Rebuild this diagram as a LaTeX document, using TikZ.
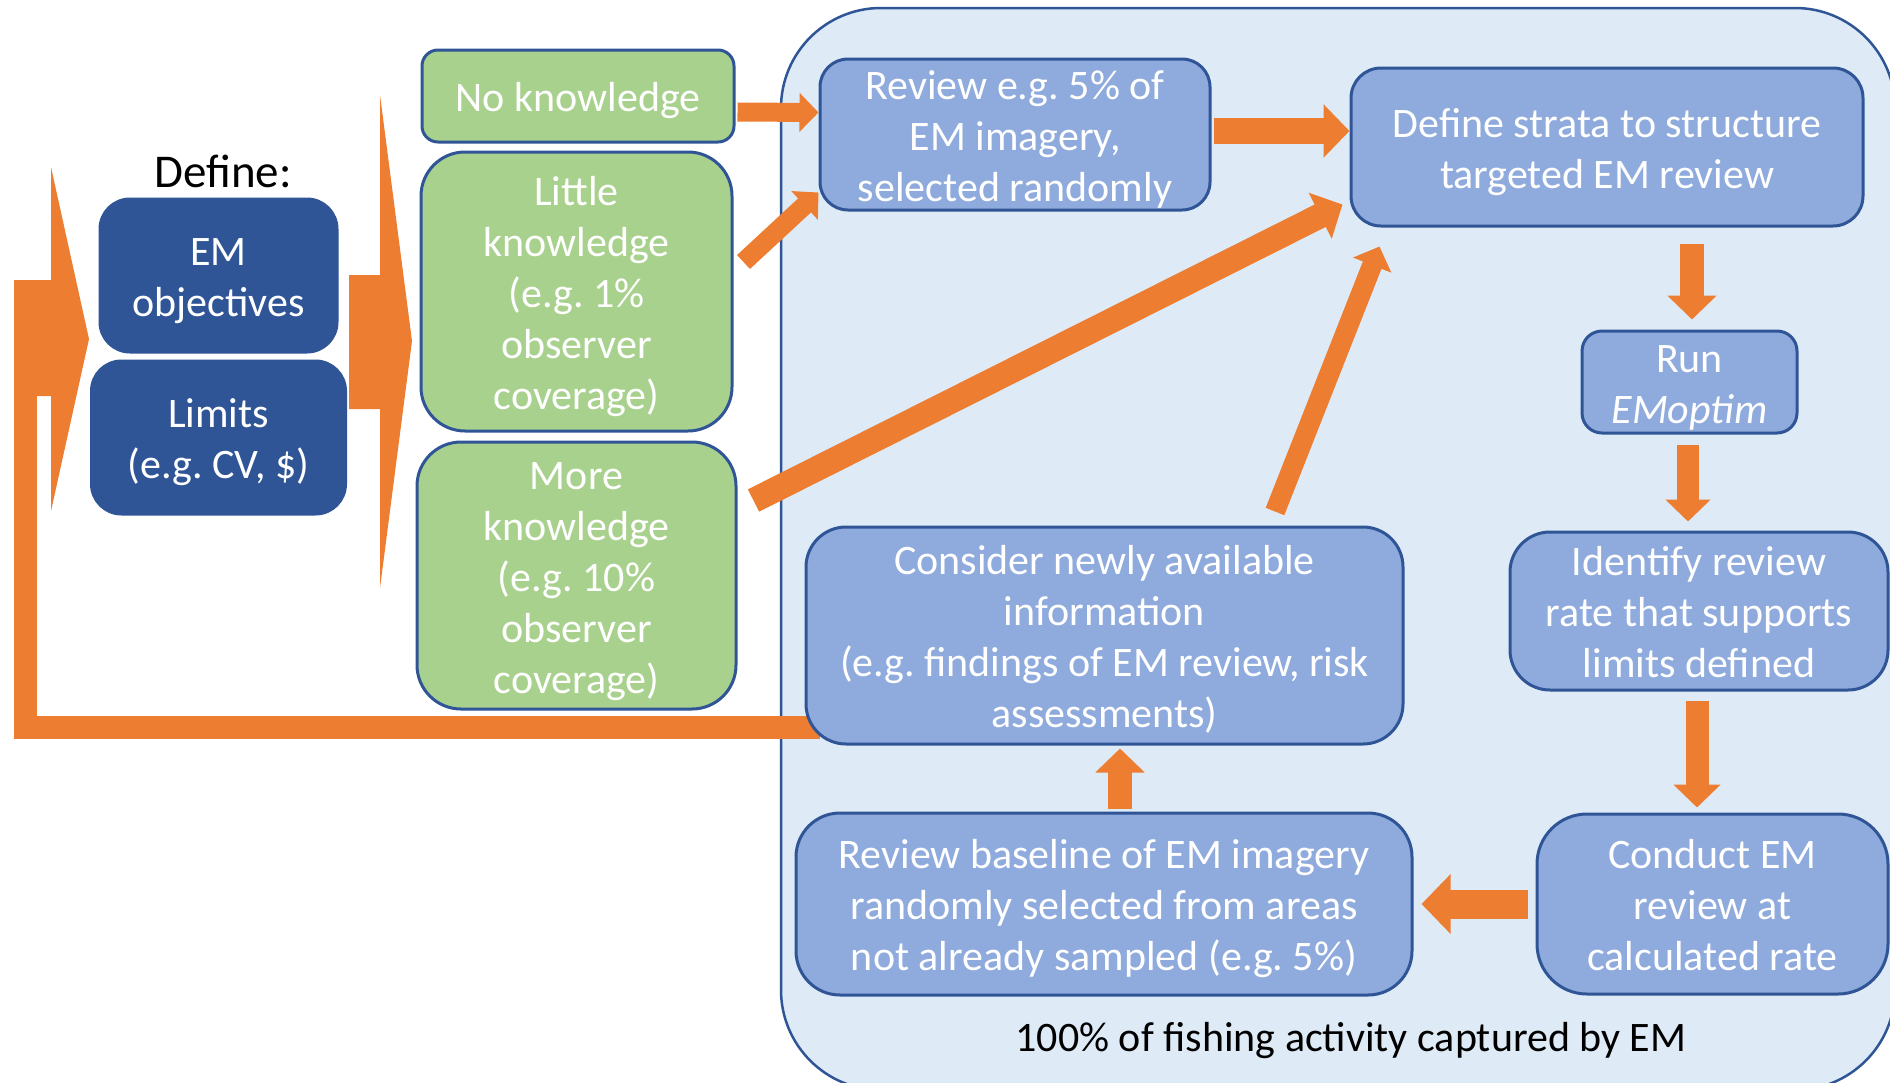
\documentclass[tikz,border=0pt]{standalone}
\usepackage{fontspec}
\setmainfont{Carlito}
\usepackage{tikz}
\usetikzlibrary{arrows.meta,positioning}
\definecolor{emdark}{HTML}{2F5597}
\definecolor{emgreen}{HTML}{A9D18E}
\definecolor{emmid}{HTML}{8FAADC}
\definecolor{emlight}{HTML}{DEEBF7}
\definecolor{emorange}{HTML}{ED7D31}

\begin{document}
\frenchspacing
\begin{tikzpicture}[
  x=0.5pt, y=-0.5pt,
  font=\fontsize{21}{25.5}\selectfont,
  box/.style={draw=emdark,line width=1.5pt,align=flush center,text=white,inner xsep=2pt,inner ysep=0pt,
    text width=\pgfshapeminwidth-6pt,
    execute at begin node={\rule{0pt}{20pt}},
    execute at end node={\rule[-4.5pt]{0pt}{4.5pt}}},
  darkbox/.style={box,fill=emdark,rounded corners=15pt,minimum width=118.5pt,minimum height=76.5pt},
  greenbox/.style={box,fill=emgreen,rounded corners=22pt},
  stepbox/.style={box,fill=emmid,rounded corners=14pt},
  flow/.style={draw=emorange,line width=#1,-{Triangle[width=0pt 2,length=0pt 1]}},
  flow/.default=11pt
]
\useasboundingbox (0,0) rectangle (1890,1082);
\fill[white] (0,0) rectangle (1890,1082);

% frame: everything that EM records
\node[draw=emdark,line width=1.25pt,fill=emlight,rounded corners=50pt,minimum width=557pt,minimum height=541pt] (emall) at (1338,549) {};
\node (cap) at (1351,1041) {100\% of fishing activity captured by EM};

% loop back to the start
\coordinate (fbstart) at (820,727);
\coordinate (fbend) at (25,390);
\draw[emorange,line width=11.5pt] (fbstart) -| (fbend);
\fill[emorange] (14,280) -- (51,280) -- (51,167) -- (89,339) -- (51,511) -- (51,396) -- (14,396) -- cycle;
\fill[emorange] (349,275) -- (380,275) -- (380,95) -- (412,341) -- (380,588) -- (380,409) -- (349,409) -- cycle;

% define
\node[font=\fontsize{23.5}{28}\selectfont] (define) at (223,171) {Define:};
\node[darkbox] (emobj) at (218.5,275.5) {EM\\objectives};
\node[darkbox,minimum width=127pt,below=3pt of emobj] (limits) {Limits\\(e.g. CV, \$)};

% prior knowledge
\node[greenbox,rounded corners=8pt,minimum width=156pt,minimum height=46pt] (noK) at (578,96) {No knowledge};
\node[greenbox,minimum width=155.5pt,minimum height=139.5pt] (littleK) at (576.5,291.5) {Little\\knowledge\\(e.g. 1\%\\observer\\coverage)};
\node[greenbox,minimum width=159.5pt,minimum height=133.5pt] (moreK) at (576.5,575.5) {More\\knowledge\\(e.g. 10\%\\observer\\coverage)};

% review cycle
\node[stepbox,minimum width=195pt,minimum height=75.5pt] (rev5) at (1015,134.5) {Review e.g. 5\% of\\EM imagery,\\selected randomly};
\node[stepbox,rounded corners=15pt,minimum width=256pt,minimum height=79pt] (strata) at (1607,147) {Define strata to structure\\targeted EM review};
\node[stepbox,rounded corners=10pt,minimum width=107.5pt,minimum height=51pt] (run) at (1689.5,382) {Run\\\textit{EMoptim}};
\node[stepbox,rounded corners=20pt,minimum width=189pt,minimum height=79pt] (identify) at (1699,611) {Identify review\\rate that supports\\limits defined};
\node[stepbox,rounded corners=25pt,minimum width=175.5pt,minimum height=90pt] (conduct) at (1712.5,904) {Conduct EM\\review at\\calculated rate};
\node[stepbox,rounded corners=20pt,minimum width=298.5pt,minimum height=108.5pt] (consider) at (1104.5,635.5) {Consider newly available\\information\\(e.g. findings of EM review, risk\\assessments)};
\node[stepbox,rounded corners=22pt,minimum width=308pt,minimum height=91pt] (baseline) at (1104,904) {Review baseline of EM imagery\\randomly selected from areas\\not already sampled (e.g. 5\%)};

\draw[flow=9.5pt] ([shift={(1pt,-8pt)}]noK.east) -- ([yshift=11pt]rev5.west);
\draw[flow=9.5pt] ([shift={(5pt,14.75pt)}]littleK.east) -- ([yshift=9.5pt]rev5.south west);
\draw[flow=12.5pt] ([shift={(8pt,-30pt)}]moreK.north east) -- ([shift={(-3.5pt,11.5pt)}]strata.south west);
\draw[flow=10pt] ([shift={(85.25pt,7pt)}]consider.north) -- ([shift={(15pt,-9.5pt)}]strata.south west);
\draw[flow=13pt] ([shift={(1pt,1.75pt)}]rev5.east) -- ([yshift=8pt]strata.west);
\draw[flow=12pt] ([shift={(42.5pt,-8pt)}]strata.south) -- ([shift={(1.25pt,5pt)}]run.north);
\draw[flow=11pt] ([shift={(-0.75pt,-5pt)}]run.south) -- ([shift={(-5.5pt,4.5pt)}]identify.north);
\draw[flow=11.5pt] ([shift={(-1pt,-4.5pt)}]identify.south) -- ([shift={(-7.75pt,2.5pt)}]conduct.north);
\draw[flow=14.5pt] ([xshift=-4pt]conduct.west) -- ([xshift=4pt]baseline.east);
\draw[flow=12pt] ([shift={(8pt,1.5pt)}]baseline.north) -- ([shift={(7.75pt,-1.5pt)}]consider.south);
\end{tikzpicture}
\end{document}
